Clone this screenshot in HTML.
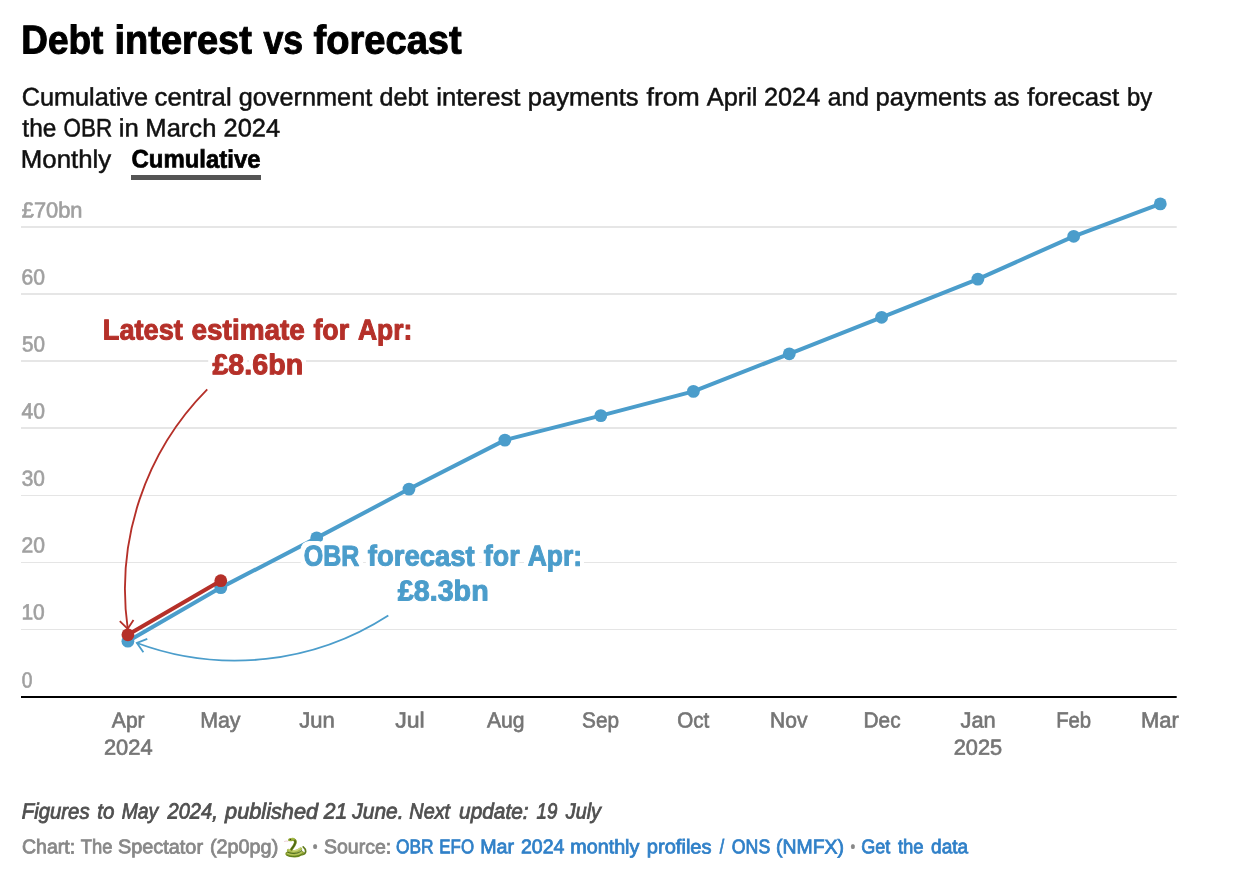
<!DOCTYPE html>
<html lang="en"><head><meta charset="utf-8"><title>Debt interest vs forecast</title>
<style>
html,body{margin:0;padding:0;background:#fff}
body{width:1234px;height:880px;position:relative;overflow:hidden;font-family:"Liberation Sans",sans-serif}
.ln{position:absolute;left:0;top:0;margin:0;padding:0;line-height:1;white-space:nowrap;font-weight:400;width:1234px;height:1em}
.ln span,.ln b{position:absolute;left:0;top:0;display:block;transform-origin:0 0;white-space:nowrap}
.ln a{color:inherit;text-decoration:none}
.ul{position:absolute;display:block;background:#555}
#chart{position:absolute;left:0;top:0;font-family:"Liberation Sans",sans-serif}
#chart text{white-space:pre}
.snake{position:absolute}
</style></head><body>
<h1 id="title" class="ln" style="font-size:40.2px;color:#000;font-weight:700;-webkit-text-stroke:1.0px #000;"><span style="transform:translate(21.37px,20.40px) matrix(0.9186,0.0006,0,1,0,0);">Debt</span> <span style="transform:translate(114.57px,20.40px) matrix(0.9453,0.0006,0,1,0,0);">interest</span> <span style="transform:translate(263.44px,20.40px) matrix(0.8874,0.0006,0,1,0,0);">vs</span> <span style="transform:translate(313.62px,20.40px) matrix(0.9468,0.0006,0,1,0,0);">forecast</span></h1>
<p id="sub1" class="ln" style="font-size:25.3px;color:#111;-webkit-text-stroke:0.5px #111;"><span style="transform:translate(21.69px,84.55px) matrix(0.9986,0.0006,0,1,0,0);">Cumulative</span> <span style="transform:translate(154.56px,84.55px) matrix(1.0145,0.0006,0,1,0,0);">central</span> <span style="transform:translate(238.71px,84.55px) matrix(0.9994,0.0006,0,1,0,0);">government</span> <span style="transform:translate(379.42px,84.55px) matrix(0.9940,0.0006,0,1,0,0);">debt</span> <span style="transform:translate(436.25px,84.55px) matrix(1.0136,0.0006,0,1,0,0);">interest</span> <span style="transform:translate(527.83px,84.55px) matrix(1.0102,0.0006,0,1,0,0);">payments</span> <span style="transform:translate(646.49px,84.55px) matrix(1.0546,0.0006,0,1,0,0);">from</span> <span style="transform:translate(706.78px,84.55px) matrix(1.0024,0.0006,0,1,0,0);">April</span> <span style="transform:translate(764.01px,84.55px) matrix(0.9986,0.0006,0,1,0,0);">2024</span> <span style="transform:translate(827.86px,84.55px) matrix(0.9716,0.0006,0,1,0,0);">and</span> <span style="transform:translate(875.59px,84.55px) matrix(1.0108,0.0006,0,1,0,0);">payments</span> <span style="transform:translate(993.64px,84.55px) matrix(0.9632,0.0006,0,1,0,0);">as</span> <span style="transform:translate(1027.29px,84.55px) matrix(1.0206,0.0006,0,1,0,0);">forecast</span> <span style="transform:translate(1126.89px,84.55px) matrix(0.9425,0.0006,0,1,0,0);">by</span></p>
<p id="sub2" class="ln" style="font-size:25.3px;color:#111;-webkit-text-stroke:0.5px #111;"><span style="transform:translate(22.37px,115.60px) matrix(0.9655,0.0006,0,1,0,0);">the</span> <span style="transform:translate(63.58px,115.60px) matrix(0.8885,0.0006,0,1,0,0);">OBR</span> <span style="transform:translate(118.66px,115.60px) matrix(1.0173,0.0006,0,1,0,0);">in</span> <span style="transform:translate(145.34px,115.60px) matrix(1.0102,0.0006,0,1,0,0);">March</span> <span style="transform:translate(223.53px,115.60px) matrix(1.0059,0.0006,0,1,0,0);">2024</span></p>
<nav id="tabs" class="ln" style="font-size:25.3px;color:#111;-webkit-text-stroke:0.5px #111;"><span style="transform:translate(20.79px,146.68px) matrix(1.0204,0.0006,0,1,0,0);">Monthly</span> <b style="transform:translate(131.47px,146.58px) matrix(0.9466,0.0006,0,1,0,0);color:#000;font-weight:700;-webkit-text-stroke:0.7px #000;">Cumulative</b></nav>
<p id="note" class="ln" style="font-size:21.9px;color:#505050;font-style:italic;-webkit-text-stroke:0.8px #505050;"><span style="transform:translate(21.72px,800.60px) matrix(0.9295,0.0006,0,1,0,0);">Figures</span> <span style="transform:translate(97.20px,800.60px) matrix(0.9378,0.0006,0,1,0,0);">to</span> <span style="transform:translate(121.73px,800.60px) matrix(0.8838,0.0006,0,1,0,0);">May</span> <span style="transform:translate(167.46px,800.60px) matrix(0.9174,0.0006,0,1,0,0);">2024,</span> <span style="transform:translate(225.11px,800.60px) matrix(0.9921,0.0006,0,1,0,0);">published</span> <span style="transform:translate(323.81px,800.60px) matrix(0.9631,0.0006,0,1,0,0);">21</span> <span style="transform:translate(352.26px,800.60px) matrix(0.9574,0.0006,0,1,0,0);">June.</span> <span style="transform:translate(409.29px,800.60px) matrix(0.9072,0.0006,0,1,0,0);">Next</span> <span style="transform:translate(459.10px,800.60px) matrix(0.9508,0.0006,0,1,0,0);">update:</span> <span style="transform:translate(536.55px,800.60px) matrix(0.8551,0.0006,0,1,0,0);">19</span> <span style="transform:translate(565.84px,800.60px) matrix(0.9033,0.0006,0,1,0,0);">July</span></p>
<p id="foot" class="ln" style="font-size:19.8px;color:#888;-webkit-text-stroke:0.8px #888;"><span style="transform:translate(21.95px,837.35px) matrix(0.9869,0.0006,0,1,0,0);">Chart:</span> <span style="transform:translate(80.85px,837.35px) matrix(0.9283,0.0006,0,1,0,0);">The</span> <span style="transform:translate(117.91px,837.35px) matrix(1.0050,0.0006,0,1,0,0);">Spectator</span> <span style="transform:translate(209.91px,837.35px) matrix(1.0022,0.0006,0,1,0,0);">(2p0pg)</span> <svg class="snake" role="img" aria-label="🐍" style="left:278px;top:832px" width="35" height="30" viewBox="0 0 35 30"><title>🐍</title>
<path d="M6.5 9.4q1.5-.6 3.3-.1" stroke="#ecd0d6" stroke-width="1.1" fill="none" stroke-linecap="round"/>
<path d="M24 22.7c4.8-.7 4.6-5.2 1.2-7.9" stroke="#5f7a1c" stroke-width="1.7" fill="none" stroke-linecap="round"/>
<path d="M9.2 21.8c4.5 2.7 11.2 2.5 15-.9" stroke="#85992c" stroke-width="3.7" fill="none" stroke-linecap="round"/>
<path d="M9.6 21.2c4.6 2.3 10.4 2 14.2-.8" stroke="#b4c45a" stroke-width="1.6" fill="none" stroke-linecap="round"/>
<path d="M10.4 18.4c4 2.4 9.2 1.4 12.2-1.5" stroke="#a6b84a" stroke-width="3.1" fill="none" stroke-linecap="round"/>
<path d="M11 17.7c3.7 2 8 1.2 11-1.3" stroke="#cbd67a" stroke-width="1.3" fill="none" stroke-linecap="round"/>
<path d="M9.4 20c4.7 2.4 10.8 1.8 14.5-1.5" stroke="#47660f" stroke-width="1" fill="none" stroke-linecap="round"/>
<path d="M9 23.5c4.6 1.7 11 1.4 15-1" stroke="#557a18" stroke-width=".9" fill="none" stroke-linecap="round"/>
<path d="M15.7 7.8c3.1.5 1.9 4.5-2.3 9.6" stroke="#758a22" stroke-width="2.8" fill="none" stroke-linecap="round"/>
<path d="M16.9 8.7c1.2 1.7-.3 4.6-3.4 8.5" stroke="#435f0e" stroke-width="1.1" fill="none" stroke-linecap="round"/>
<ellipse cx="13.4" cy="7.6" rx="3.5" ry="1.65" transform="rotate(-8 13.4 7.6)" fill="#90a734"/>
<path d="M10.6 7.4q2.6-1.6 5.4-.5" stroke="#b3c858" stroke-width=".8" fill="none" stroke-linecap="round"/>
<circle cx="12.3" cy="7.4" r=".65" fill="#3a2a15"/>
</svg> <span style="transform:translate(312.86px,838.13px) matrix(0.8042,0.0006,0,1,0,0);font-size:17.0px;-webkit-text-stroke:0.4px #888;">•</span> <span style="transform:translate(324.01px,837.35px) matrix(0.9862,0.0006,0,1,0,0);">Source:</span> <a href="#"> <span style="transform:translate(395.92px,837.35px) matrix(0.8770,0.0006,0,1,0,0);color:#3080c8;-webkit-text-stroke:0.8px #3080c8;">OBR</span> <span style="transform:translate(439.37px,837.35px) matrix(0.8516,0.0006,0,1,0,0);color:#3080c8;-webkit-text-stroke:0.8px #3080c8;">EFO</span> <span style="transform:translate(480.24px,837.35px) matrix(0.9933,0.0006,0,1,0,0);color:#3080c8;-webkit-text-stroke:0.8px #3080c8;">Mar</span> <span style="transform:translate(520.97px,837.35px) matrix(0.9873,0.0006,0,1,0,0);color:#3080c8;-webkit-text-stroke:0.8px #3080c8;">2024</span> <span style="transform:translate(570.25px,837.35px) matrix(0.9979,0.0006,0,1,0,0);color:#3080c8;-webkit-text-stroke:0.8px #3080c8;">monthly</span> <span style="transform:translate(646.85px,837.35px) matrix(1.0146,0.0006,0,1,0,0);color:#3080c8;-webkit-text-stroke:0.8px #3080c8;">profiles</span> <span style="transform:translate(719.66px,837.35px) matrix(0.8081,0.0006,0,1,0,0);color:#3080c8;-webkit-text-stroke:0.8px #3080c8;">/</span> <span style="transform:translate(731.86px,837.35px) matrix(0.8937,0.0006,0,1,0,0);color:#3080c8;-webkit-text-stroke:0.8px #3080c8;">ONS</span> <span style="transform:translate(776.11px,837.35px) matrix(0.9814,0.0006,0,1,0,0);color:#3080c8;-webkit-text-stroke:0.8px #3080c8;">(NMFX)</span> </a> <span style="transform:translate(850.39px,838.13px) matrix(0.7956,0.0006,0,1,0,0);font-size:17.0px;-webkit-text-stroke:0.4px #888;">•</span> <a href="#"> <span style="transform:translate(861.29px,837.35px) matrix(0.9109,0.0006,0,1,0,0);color:#3080c8;-webkit-text-stroke:0.8px #3080c8;">Get</span> <span style="transform:translate(897.88px,837.35px) matrix(0.9364,0.0006,0,1,0,0);color:#3080c8;-webkit-text-stroke:0.8px #3080c8;">the</span> <span style="transform:translate(931.07px,837.35px) matrix(0.9615,0.0006,0,1,0,0);color:#3080c8;-webkit-text-stroke:0.8px #3080c8;">data</span> </a></p>
<i class="ul" style="left:131px;top:175.4px;width:130.1px;height:4.5px"></i>
<svg id="chart" width="1234" height="880" viewBox="0 0 1234 880" role="img" aria-label="Line chart">
<g class="grid">
<rect x="21.0" y="226" width="1155.7" height="2" fill="#e6e6e6"/>
<rect x="21.0" y="293" width="1155.7" height="2" fill="#e6e6e6"/>
<rect x="21.0" y="360" width="1155.7" height="2" fill="#e6e6e6"/>
<rect x="21.0" y="427" width="1155.7" height="2" fill="#e6e6e6"/>
<rect x="21.0" y="495" width="1155.7" height="1" fill="#e5e5e5"/>
<rect x="21.0" y="562" width="1155.7" height="1" fill="#e5e5e5"/>
<rect x="21.0" y="629" width="1155.7" height="1" fill="#e5e5e5"/>
<rect x="21.0" y="696" width="1155.7" height="2" fill="#000"/>
</g>
<g class="ylab" font-size="21.9" fill="#a0a0a0" stroke="#a0a0a0" stroke-width="0.65">
<text transform="translate(21.74,217.53) matrix(0.9971,0.0006,0,1,0,0)">£70bn</text>
<text transform="translate(21.57,284.38) matrix(0.9648,0.0006,0,1,0,0)">60</text>
<text transform="translate(21.89,351.48) matrix(0.9446,0.0006,0,1,0,0)">50</text>
<text transform="translate(21.45,418.38) matrix(0.9636,0.0006,0,1,0,0)">40</text>
<text transform="translate(21.70,485.68) matrix(0.9524,0.0006,0,1,0,0)">30</text>
<text transform="translate(21.58,552.57) matrix(0.9634,0.0006,0,1,0,0)">20</text>
<text transform="translate(21.40,619.57) matrix(0.9584,0.0006,0,1,0,0)">10</text>
<text transform="translate(21.81,687.38) matrix(0.8804,0.0006,0,1,0,0)">0</text>
</g>
<g class="xlab" font-size="21.9" fill="#757575" stroke="#757575" stroke-width="0.65">
<text transform="translate(111.85,727.57) matrix(0.9606,0.0006,0,1,0,0)">Apr</text>
<text transform="translate(103.91,754.67) matrix(0.9987,0.0006,0,1,0,0)">2024</text>
<text transform="translate(200.22,727.57) matrix(0.9744,0.0006,0,1,0,0)">May</text>
<text transform="translate(299.17,727.57) matrix(1.0058,0.0006,0,1,0,0)">Jun</text>
<text transform="translate(395.21,727.57) matrix(1.0542,0.0006,0,1,0,0)">Jul</text>
<text transform="translate(486.93,727.57) matrix(0.9638,0.0006,0,1,0,0)">Aug</text>
<text transform="translate(582.06,727.57) matrix(0.9488,0.0006,0,1,0,0)">Sep</text>
<text transform="translate(677.16,727.57) matrix(0.9405,0.0006,0,1,0,0)">Oct</text>
<text transform="translate(770.01,727.57) matrix(0.9616,0.0006,0,1,0,0)">Nov</text>
<text transform="translate(863.58,727.57) matrix(0.9500,0.0006,0,1,0,0)">Dec</text>
<text transform="translate(960.49,727.57) matrix(0.9970,0.0006,0,1,0,0)">Jan</text>
<text transform="translate(953.72,754.67) matrix(0.9957,0.0006,0,1,0,0)">2025</text>
<text transform="translate(1056.13,727.57) matrix(0.9272,0.0006,0,1,0,0)">Feb</text>
<text transform="translate(1140.88,727.57) matrix(1.0045,0.0006,0,1,0,0)">Mar</text>
</g>
<g class="series-forecast">
<path d="M127.9,641.2 L220.8,587.6 L316.7,537.9 L409.0,489.1 L504.9,440.1 L600.8,415.6 L693.4,391.4 L789.3,353.8 L881.6,317.3 L977.9,279.1 L1073.7,236.3 L1160.3,203.9" fill="none" stroke="#4b9dcb" stroke-width="4" stroke-linejoin="round" stroke-linecap="round"/>
<circle cx="127.9" cy="641.2" r="6.4" fill="#4b9dcb"/>
<circle cx="220.8" cy="587.6" r="6.4" fill="#4b9dcb"/>
<circle cx="316.7" cy="537.9" r="6.4" fill="#4b9dcb"/>
<circle cx="409.0" cy="489.1" r="6.4" fill="#4b9dcb"/>
<circle cx="504.9" cy="440.1" r="6.4" fill="#4b9dcb"/>
<circle cx="600.8" cy="415.6" r="6.4" fill="#4b9dcb"/>
<circle cx="693.4" cy="391.4" r="6.4" fill="#4b9dcb"/>
<circle cx="789.3" cy="353.8" r="6.4" fill="#4b9dcb"/>
<circle cx="881.6" cy="317.3" r="6.4" fill="#4b9dcb"/>
<circle cx="977.9" cy="279.1" r="6.4" fill="#4b9dcb"/>
<circle cx="1073.7" cy="236.3" r="6.4" fill="#4b9dcb"/>
<circle cx="1160.3" cy="203.9" r="6.4" fill="#4b9dcb"/>
</g>
<g class="series-latest">
<path d="M127.9,634.8 L220.8,580.7" fill="none" stroke="#b53029" stroke-width="4" stroke-linejoin="round" stroke-linecap="round"/>
<circle cx="127.9" cy="634.8" r="6.4" fill="#b53029"/>
<circle cx="220.8" cy="580.7" r="6.4" fill="#b53029"/>
</g>
<g class="arrows" fill="none" stroke-width="1.85" stroke-linecap="butt">
<path d="M207.25,389.4 A284,284 0 0 0 127.7,628.5" stroke="#b53029"/>
<path d="M119.8,621.2 L127.7,628.8 L133.5,620.1" stroke="#b53029"/>
<path d="M388.3,615.5 A282.8,282.8 0 0 1 136.9,643.0" stroke="#4b9dcb"/>
<path d="M147.3,638.9 L136.9,643.0 L143.4,652.2" stroke="#4b9dcb"/>
</g>
<defs><filter id="halo" filterUnits="userSpaceOnUse" x="80" y="300" width="540" height="330" color-interpolation-filters="sRGB"><feMorphology in="SourceAlpha" operator="dilate" radius="4" result="d"/><feFlood flood-color="#fff"/><feComposite in2="d" operator="in" result="h"/><feMerge><feMergeNode in="h"/><feMergeNode in="SourceGraphic"/></feMerge></filter></defs>
<g class="annot" font-size="28.8" font-weight="700" stroke-width="1.0" stroke-linejoin="round" filter="url(#halo)">
<g fill="#b53029" stroke="#b53029">
<text transform="translate(102.82,339.50) matrix(0.9438,0.0006,0,1,0,0)">Latest</text>
<text transform="translate(191.54,339.50) matrix(0.9701,0.0006,0,1,0,0)">estimate</text>
<text transform="translate(313.44,339.50) matrix(0.9308,0.0006,0,1,0,0)">for</text>
<text transform="translate(357.89,339.50) matrix(0.9191,0.0006,0,1,0,0)">Apr:</text>
</g>
<g fill="#b53029" stroke="#b53029">
<text transform="translate(212.38,374.30) matrix(0.9948,0.0006,0,1,0,0)">£8.6bn</text>
</g>
<g fill="#4b9dcb" stroke="#4b9dcb">
<text transform="translate(303.77,565.60) matrix(0.8677,0.0006,0,1,0,0)">OBR</text>
<text transform="translate(367.82,565.60) matrix(0.9539,0.0006,0,1,0,0)">forecast</text>
<text transform="translate(483.81,565.60) matrix(0.9317,0.0006,0,1,0,0)">for</text>
<text transform="translate(527.65,565.60) matrix(0.9186,0.0006,0,1,0,0)">Apr:</text>
</g>
<g fill="#4b9dcb" stroke="#4b9dcb">
<text transform="translate(397.75,600.40) matrix(0.9969,0.0006,0,1,0,0)">£8.3bn</text>
</g>
</g>
</svg>
</body></html>
